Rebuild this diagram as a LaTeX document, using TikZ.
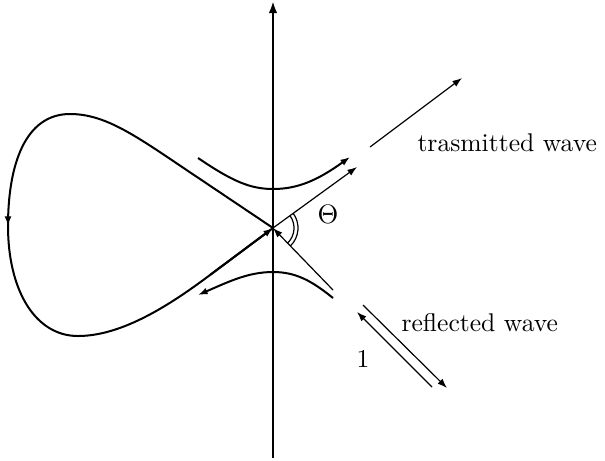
\documentclass[tikz,border=0pt]{standalone}
\usetikzlibrary{arrows.meta,calc}
\begin{document}
\begin{tikzpicture}[x=0.375pt,y=-0.375pt,
  axisline/.style={line width=1.1pt},
  curveline/.style={line width=0.75pt},
  thinline/.style={line width=0.45pt},
  tip/.style={-{Latex[length=3.6pt,width=2.6pt]}},
  lbl/.style={font=\fontsize{9.6}{11}\selectfont, inner sep=0pt}]
\useasboundingbox (0,0) rectangle (605,460);
\coordinate (O) at (273,228);
\coordinate (axB) at (273,458);
\coordinate (axT) at (273,1);
% axis
\draw[axisline,-{Latex[length=4.5pt,width=3.2pt]}] (axB) -- (axT);
% loop (separatrix)
\coordinate (L1) at (200,179);
\coordinate (Ltop) at (70,114);
\coordinate (Lleft) at (8,226);
\coordinate (Lbot) at (78,336);
\coordinate (L2) at (210,275);
\coordinate (La) at (8,219);
\draw[curveline] (O) -- (L1) .. controls (140,139) and (108,114) .. (Ltop)
  .. controls (25,114) and (8,165) .. (Lleft)
  .. controls (8,290) and (35,336) .. (Lbot)
  .. controls (122,336) and (170,305) .. (L2) -- (O);
\draw[curveline,tip] (La) -- (Lleft);
\draw[curveline,tip] (L2) -- (O);
% hyperbolas
\coordinate (H1a) at (198,158);
\coordinate (H1v) at (273,189);
\coordinate (H1b) at (350,157);
\draw[curveline,tip] (H1a) .. controls (232,181) and (250,189) .. (H1v)
  .. controls (298,189) and (318,180) .. (H1b);
\coordinate (H2a) at (333,298);
\coordinate (H2v) at (273,272);
\coordinate (H2b) at (198,295);
\draw[curveline,tip] (H2a) .. controls (312,281) and (296,272) .. (H2v)
  .. controls (248,272) and (228,282) .. (H2b);
% transmitted and incoming rays at the crossing
\coordinate (T1) at (357,167);
\coordinate (In) at (333,290);
\draw[thinline,tip] (O) -- (T1);
\draw[thinline,tip] (In) -- (O);
% angle Theta
\draw[thinline] ($(O)+(-36:21)$) arc[start angle=-36,end angle=46,radius=21];
\draw[thinline] ($(O)+(-36:25)$) arc[start angle=-36,end angle=46,radius=25];
\node[lbl] (th) at (328,214) {$\Theta$};
% transmitted wave arrow
\coordinate (TWa) at (370,147);
\coordinate (TWb) at (462,78);
\draw[thinline,tip] (TWa) -- (TWb);
\node[lbl,anchor=west] (tw) at (417,143) {trasmitted wave};
% reflected wave arrows
\coordinate (Ra) at (432,387);
\coordinate (Rb) at (357,312);
\coordinate (Rc) at (363,305);
\coordinate (Rd) at (447,388);
\draw[thinline,tip] (Ra) -- (Rb);
\draw[thinline,tip] (Rc) -- (Rd);
\node[lbl,anchor=west] (rw) at (401,323) {reflected wave};
\node[lbl] (one) at (363,359) {1};
\end{tikzpicture}
\end{document}
